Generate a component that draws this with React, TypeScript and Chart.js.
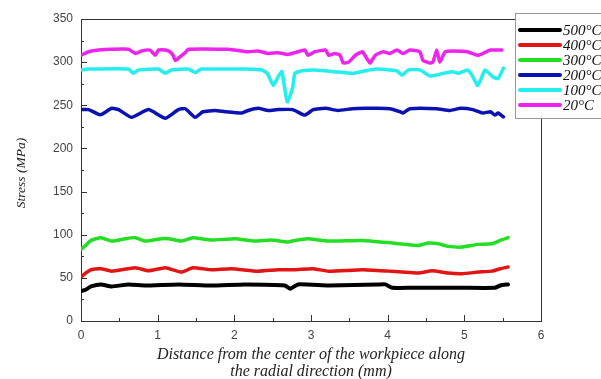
import { useEffect, useRef } from 'react';
import { Chart, registerables } from 'chart.js';
Chart.register(...registerables);

const seriesLabels = ['500°C', '400°C', '300°C', '200°C', '100°C', '20°C'];
const seriesColors = ['#000000', '#e21414', '#24de24', '#0a12b2', '#24eeee', '#ee24ee'];
const seriesWidths = [4, 3.5, 3.5, 3.5, 3.5, 3.5];

const x500 = [0, 0.06, 0.13, 0.26, 0.4, 0.62, 0.84, 1.27, 1.7, 2.14, 2.66, 2.73, 2.83, 3.23, 3.88, 3.97, 4.06, 4.32, 4.97, 5.4, 5.47, 5.57];
const y500 = [34.6, 36.2, 40, 42.4, 40, 42.4, 41.2, 42.4, 41.2, 42.4, 41.2, 37.4, 42.4, 41.2, 42.4, 42.4, 38.5, 38.5, 38.5, 38.5, 41.2, 42.4];

const x400 = [0, 0.06, 0.13, 0.26, 0.4, 0.71, 0.88, 1.1, 1.31, 1.46, 1.7, 1.96, 2.31, 2.57, 2.79, 3.02, 3.23, 3.67, 4.01, 4.19, 4.4, 4.58, 4.79, 4.97, 5.18, 5.36, 5.47, 5.57];
const y400 = [51, 55.5, 59.4, 60.6, 57.8, 61.8, 58.2, 61.8, 56.7, 61.8, 59.4, 60.6, 57.8, 59.4, 59.4, 60.6, 57.8, 59.4, 57.8, 56.7, 55.5, 58.2, 55.5, 54.8, 56.7, 57.8, 60.6, 62.5];

const x300 = [0, 0.06, 0.13, 0.26, 0.4, 0.58, 0.71, 0.84, 1.05, 1.14, 1.31, 1.46, 1.7, 2.01, 2.27, 2.48, 2.7, 2.79, 2.96, 3.23, 3.67, 4.06, 4.23, 4.4, 4.53, 4.66, 4.79, 4.97, 5.18, 5.36, 5.49, 5.57];
const y300 = [83, 87.6, 93.4, 96.6, 92.6, 95.4, 96.6, 92.6, 95.4, 95.4, 92.6, 96.6, 93.8, 95.4, 92.6, 94, 91.5, 93.4, 95.4, 92.6, 93.4, 90.3, 88.8, 87.6, 90.3, 89.5, 86.5, 85.7, 88.8, 89.5, 94.2, 96.6];

const x200 = [0, 0.1, 0.25, 0.4, 0.49, 0.66, 0.88, 1.1, 1.27, 1.36, 1.49, 1.59, 1.75, 1.88, 2.1, 2.18, 2.31, 2.44, 2.57, 2.76, 2.92, 3.03, 3.19, 3.35, 3.54, 3.71, 3.84, 4.03, 4.16, 4.2, 4.29, 4.64, 4.81, 4.95, 5.11, 5.24, 5.34, 5.4, 5.44, 5.51];
const y200 = [245, 245, 239, 246.5, 245, 236, 245, 235, 245, 246, 236, 242.5, 244, 242.5, 241, 244, 246.5, 244, 245, 245, 238.6, 245, 246.5, 244, 246, 246.5, 246.5, 246, 242.5, 241, 246, 246, 244, 246.5, 245, 241, 242.5, 238.6, 241, 236.6];

const x100 = [0, 0.1, 0.62, 0.68, 0.75, 1.01, 1.1, 1.18, 1.4, 1.49, 1.57, 1.92, 2.14, 2.36, 2.43, 2.51, 2.57, 2.62, 2.69, 2.76, 2.79, 2.89, 3.05, 3.31, 3.54, 3.71, 3.84, 4.03, 4.12, 4.19, 4.27, 4.42, 4.49, 4.55, 4.64, 4.72, 4.84, 4.92, 5.04, 5.1, 5.17, 5.21, 5.27, 5.37, 5.44, 5.51];
const y100 = [291, 292, 292, 287, 291, 292, 287, 291, 292, 288, 292, 292, 292, 291, 287, 273, 283, 289, 254, 270, 287, 290, 291, 289, 287, 290, 292, 291, 290, 285, 291, 291, 287, 284, 285, 287, 289, 287, 291, 285, 273, 279, 291, 283, 281, 293];

const x20 = [0, 0.1, 0.23, 0.4, 0.62, 0.71, 0.79, 0.9, 0.97, 1.01, 1.1, 1.16, 1.2, 1.23, 1.29, 1.36, 1.4, 1.92, 2.01, 2.18, 2.31, 2.44, 2.57, 2.7, 2.79, 2.92, 2.96, 3.05, 3.19, 3.23, 3.31, 3.38, 3.42, 3.49, 3.58, 3.67, 3.73, 3.77, 3.84, 3.94, 4.03, 4.12, 4.2, 4.29, 4.42, 4.46, 4.55, 4.59, 4.64, 4.68, 4.75, 4.85, 5.04, 5.17, 5.24, 5.34, 5.49];
const y20 = [308, 312, 314, 315, 315, 310, 313, 314, 308, 314, 314, 312, 308, 302, 306, 311, 315, 315, 314, 312, 313, 310, 311, 309, 311, 314, 308, 312, 314, 308, 310, 308, 299, 300, 308, 312, 304, 299, 308, 312, 310, 314, 310, 314, 312, 302, 299, 300, 314, 300, 312, 313, 312, 308, 310, 314, 314];

const seriesX = [x500, x400, x300, x200, x100, x20];
const seriesY = [y500, y400, y300, y200, y100, y20];

const xTickValues = [0, 1, 2, 3, 4, 5, 6];
const yTickValues = [0, 50, 100, 150, 200, 250, 300, 350];
const xTitleLines = ['Distance from the center of the workpiece along', 'the radial direction (mm)'];
const yTitle = 'Stress (MPa)';

const decorPlugin = {
  id: 'decor',
  afterDraw(chart: any) {
    const { ctx, chartArea } = chart;
    const xs = chart.scales.x;
    const ys = chart.scales.y;
    const { left, right, top, bottom } = chartArea;
    ctx.save();
    ctx.strokeStyle = '#333';
    ctx.lineWidth = 1;
    ctx.beginPath();
    ctx.moveTo(left, top + 0.5);
    ctx.lineTo(right + 0.5, top + 0.5);
    ctx.lineTo(right + 0.5, bottom);
    ctx.stroke();
    ctx.beginPath();
    for (let v = 0; v <= 6.0001; v += 0.5) {
      const px = Math.round(xs.getPixelForValue(v)) + 0.5;
      const len = Math.abs(v - Math.round(v)) < 0.01 ? 6 : 3;
      ctx.moveTo(px, bottom);
      ctx.lineTo(px, bottom - len);
    }
    for (let v = 0; v <= 350.001; v += 25) {
      const py = Math.round(ys.getPixelForValue(v)) + 0.5;
      const len = v % 50 === 0 ? 6 : 3;
      ctx.moveTo(left, py);
      ctx.lineTo(left + len, py);
    }
    ctx.stroke();

    ctx.fillStyle = '#222';
    ctx.font = 'italic 13.5px "Liberation Serif", "Times New Roman", serif';
    ctx.textAlign = 'center';
    ctx.textBaseline = 'middle';
    ctx.save();
    ctx.translate(21, 173);
    ctx.rotate(-Math.PI / 2);
    ctx.fillText(yTitle, 0, 0);
    ctx.restore();
    ctx.font = 'italic 16px "Liberation Serif", "Times New Roman", serif';
    const cx = (left + right) / 2;
    ctx.fillText(xTitleLines[0], cx, 355);
    ctx.fillText(xTitleLines[1], cx, 372);

    const bx = 515.5, by = 13.5, bw = 100, bh = 105;
    ctx.fillStyle = '#fff';
    ctx.fillRect(bx, by, bw, bh);
    ctx.strokeStyle = '#999';
    ctx.strokeRect(bx, by, bw, bh);
    ctx.font = 'italic 15px "Liberation Serif", "Times New Roman", serif';
    ctx.textAlign = 'left';
    chart.data.datasets.forEach((ds: any, i: number) => {
      const ry = 30 + i * 15;
      ctx.strokeStyle = ds.borderColor;
      ctx.lineWidth = 4;
      ctx.lineCap = 'round';
      ctx.beginPath();
      ctx.moveTo(520, ry);
      ctx.lineTo(560, ry);
      ctx.stroke();
      ctx.fillStyle = '#111';
      ctx.fillText(ds.label, 563, ry + 1);
    });
    ctx.restore();
  },
};

export default function App() {
  const ref = useRef<HTMLCanvasElement>(null);
  useEffect(() => {
    if (!ref.current) return;
    const datasets = seriesLabels.map((label, i) => ({
      label,
      data: seriesX[i].map((x, j) => ({ x, y: seriesY[i][j] })),
      borderColor: seriesColors[i],
      backgroundColor: seriesColors[i],
      borderWidth: seriesWidths[i],
      pointRadius: 0,
      tension: 0.15,
      borderJoinStyle: 'round' as const,
      borderCapStyle: 'round' as const,
      fill: false,
    }));
    const tickFont = { family: '"Liberation Sans", Arial, sans-serif', size: 12 };
    const chart = new Chart(ref.current, {
      type: 'line',
      data: { datasets },
      options: {
        animation: false,
        responsive: false,
        maintainAspectRatio: false,
        layout: { padding: { top: 19, right: 60, left: 0, bottom: 0 } },
        plugins: { legend: { display: false }, tooltip: { enabled: false }, title: { display: false } },
        scales: {
          x: {
            type: 'linear',
            min: 0,
            max: 6,
            afterBuildTicks: (s: any) => { s.ticks = xTickValues.map((v) => ({ value: v })); },
            afterFit: (s: any) => { s.height = 58; },
            grid: { display: false, drawTicks: false },
            border: { display: true, color: '#333', width: 1 },
            ticks: { padding: 7, color: '#444', font: tickFont, maxRotation: 0 },
          },
          y: {
            type: 'linear',
            min: 0,
            max: 350,
            afterBuildTicks: (s: any) => { s.ticks = yTickValues.map((v) => ({ value: v })); },
            afterFit: (s: any) => { s.width = 81; },
            grid: { display: false, drawTicks: false },
            border: { display: true, color: '#333', width: 1 },
            ticks: { padding: 8, color: '#444', font: tickFont },
          },
        },
      },
      plugins: [decorPlugin],
    });
    return () => chart.destroy();
  }, []);
  return (
    <div style={{ position: 'absolute', left: 0, top: 0, width: 601, height: 379, background: '#fff' }}>
      <canvas ref={ref} width={601} height={379} style={{ width: 601, height: 379, display: 'block' }} />
    </div>
  );
}
